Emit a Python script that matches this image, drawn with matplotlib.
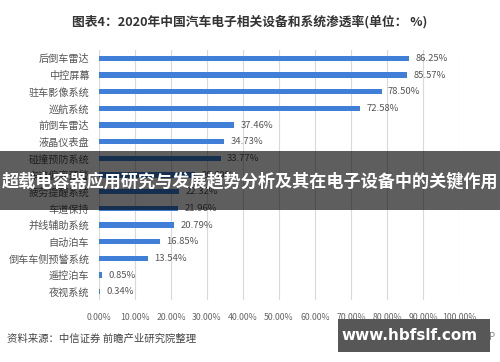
import matplotlib
matplotlib.use("Agg")
import matplotlib.pyplot as plt
from matplotlib.patches import Rectangle

plt.rcParams['font.family'] = ['Noto Sans CJK SC', 'DejaVu Sans']

# data (top to bottom)
categories = ['后倒车雷达', '中控屏幕', '驻车影像系统', '巡航系统', '前倒车雷达',
              '液晶仪表盘', '碰撞预防系统', '车道偏离预警', '疲劳提醒系统', '车道保持',
              '并线辅助系统', '自动泊车', '倒车车侧预警系统', '遥控泊车', '夜视系统']
values = [86.25, 85.57, 78.50, 72.58, 37.46, 34.73, 33.77, 26.69, 22.32, 21.96,
          20.79, 16.85, 13.54, 0.85, 0.34]
xticks = [0, 10, 20, 30, 40, 50, 60, 70, 80, 90, 100]

title = '图表4：2020年中国汽车电子相关设备和系统渗透率(单位： %)'
banner = '超载电容器应用研究与发展趋势分析及其在电子设备中的关键作用'
source = '资料来源：中信证券 前瞻产业研究院整理'
site = 'www.hbfslf.com'

W, H = 500, 362
fig = plt.figure(figsize=(W / 100, H / 100), dpi=100)
fig.patch.set_facecolor('white')


def fx(px):
    return px / W


def fy(py):
    return 1 - py / H


ax = fig.add_axes([fx(99), fy(300), fx(459) - fx(99), fy(50) - fy(300)])
ypos = list(range(len(categories)))
ax.barh(ypos, values, height=0.33, color='#3f7fd8', zorder=3)
for y, v in zip(ypos, values):
    ax.text(v + 1.8, y, '%.2f%%' % v, va='center', ha='left', fontsize=6.8,
            color='#555555', zorder=4)

ax.set_xlim(0, 100)
ax.set_ylim(len(categories) - 0.5, -0.5)
ax.set_yticks(ypos)
ax.set_yticklabels(categories, fontsize=7.3, color='#555555')
ax.set_xticks(xticks)
ax.set_xticklabels(['%.2f%%' % t for t in xticks], fontsize=6.3, color='#666666')
ax.tick_params(axis='both', length=0)
ax.tick_params(axis='y', pad=7)
ax.tick_params(axis='x', pad=9)
ax.grid(axis='x', color='#d9d9d9', linewidth=0.8, zorder=0)
for s in ax.spines.values():
    s.set_visible(False)

fig.text(0.5, fy(22), title, ha='center', va='center', fontsize=9.2,
         fontweight='bold', color='#333333')
fig.text(fx(7), fy(339), source, ha='left', va='center', fontsize=7.5,
         color='#444444')

# semi transparent banner across the middle
fig.patches.append(Rectangle((0, fy(210)), 1, fy(151) - fy(210), transform=fig.transFigure,
                             facecolor='black', alpha=0.63, zorder=10))
fig.text(0.5, fy(181), banner, ha='center', va='center', fontsize=12.3,
         fontweight='bold', color='white', zorder=11)

# site box at bottom right
fig.text(fx(478), fy(337), 'APP', ha='left', va='center', fontsize=7,
         color='#888888', zorder=5)
fig.patches.append(Rectangle((fx(338), fy(352)), fx(490) - fx(338), fy(319) - fy(352),
                             transform=fig.transFigure, facecolor='#575757', zorder=10))
fig.text(fx(410), fy(336), site, ha='center', va='center', fontsize=11,
         fontweight='bold', color='white', family='DejaVu Sans', zorder=11)

fig.savefig('out.png', dpi=100)
